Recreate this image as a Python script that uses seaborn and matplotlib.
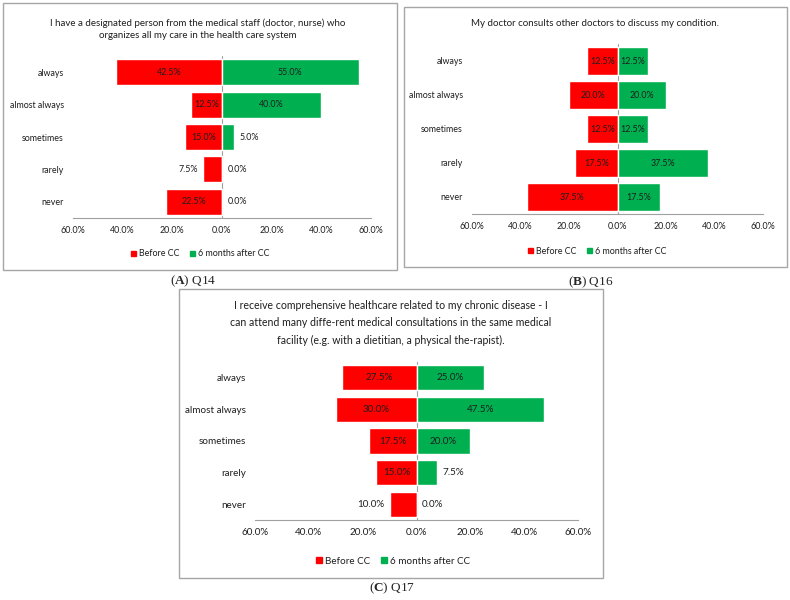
import matplotlib.pyplot as plt
import seaborn as sns
from matplotlib.patches import Patch, Rectangle

# answer categories and percentages
cats = ["always", "almost always", "sometimes", "rarely", "never"]
q14_before = [42.5, 12.5, 15.0, 7.5, 22.5]
q14_after = [55.0, 40.0, 5.0, 0.0, 0.0]
q16_before = [12.5, 20.0, 12.5, 17.5, 37.5]
q16_after = [12.5, 20.0, 12.5, 37.5, 17.5]
q17_before = [27.5, 30.0, 17.5, 15.0, 10.0]
q17_after = [25.0, 47.5, 20.0, 7.5, 0.0]
series_names = ["Before CC", "6 months after CC"]
xticks = [-60, -40, -20, 0, 20, 40, 60]

title_a = ("I have a designated person from the medical staff (doctor, nurse) who\n"
           "organizes all my care in the health care system")
title_b = "My doctor consults other doctors to discuss my condition."
title_c = ("I receive comprehensive healthcare related to my chronic disease - I\n"
           "can attend many diffe-rent medical consultations in the same medical\n"
           "facility (e.g. with a dietitian, a physical the-rapist).")

RED = "#ff0000"
GREEN = "#00b050"
TXT = "#1e1e1e"

sns.set_style("white")
plt.rcParams["font.family"] = ["Lato", "DejaVu Sans"]
plt.rcParams["mathtext.fontset"] = "custom"
plt.rcParams["mathtext.rm"] = "Liberation Serif"
plt.rcParams["mathtext.bf"] = "Liberation Serif:bold"

fig = plt.figure(figsize=(7.9, 6.0), dpi=100)


def draw_panel(rect, before, after, fs):
    ax = fig.add_axes(rect)
    sns.barplot(x=[-v for v in before], y=cats, order=cats, color=RED,
                width=0.8, errorbar=None, saturation=1, ax=ax)
    sns.barplot(x=after, y=cats, order=cats, color=GREEN,
                width=0.8, errorbar=None, saturation=1, ax=ax)
    ax.set_xlim(-60, 60)
    ax.set_ylim(4.5, -0.5)
    ax.set_xlabel("")
    ax.set_ylabel("")
    ax.axvline(0, color="#a0a0a0", lw=0.8, zorder=0)
    ax.set_xticks(xticks)
    ax.set_xticklabels([f"{abs(t):.1f}%" for t in xticks], fontsize=fs, color=TXT)
    ax.tick_params(axis="x", direction="inout", length=4, width=0.6,
                   color="#a0a0a0", pad=4)
    ax.tick_params(axis="y", length=0, pad=6.5, labelsize=fs, labelcolor=TXT)
    for s in ["top", "right", "left"]:
        ax.spines[s].set_visible(False)
    ax.spines["bottom"].set_color("#a0a0a0")
    ax.spines["bottom"].set_linewidth(0.8)

    for cont, vals in zip(ax.containers[:2], [before, after]):
        inside = [f"{v:.1f}%" if v > 10 else "" for v in vals]
        outside = [f"{v:.1f}%" if v <= 10 else "" for v in vals]
        ax.bar_label(cont, labels=inside, label_type="center", fontsize=fs, color=TXT)
        ax.bar_label(cont, labels=outside, label_type="edge", padding=4,
                     fontsize=fs, color=TXT)
    return ax


def frame(x0, y0, x1, y1):
    fig.patches.append(Rectangle((x0 / 790, 1 - y1 / 600), (x1 - x0) / 790,
                                 (y1 - y0) / 600, transform=fig.transFigure,
                                 fill=False, edgecolor="#a6a6a6", lw=1.0))


handles = [Patch(color=RED), Patch(color=GREEN)]


def legend(cx, cy, fs):
    fig.legend(handles, series_names, loc="center", bbox_to_anchor=(cx, cy),
               ncol=2, frameon=False, fontsize=fs, handlelength=0.6,
               handleheight=0.6, handletextpad=0.3, columnspacing=1.2,
               labelcolor=TXT)


# panel A
frame(3, 3, 397, 270)
draw_panel([73 / 790, 1 - 218 / 600, 298 / 790, 162 / 600], q14_before, q14_after, 6.4)
fig.text(198 / 790, 1 - 29 / 600, title_a, ha="center", va="center",
         fontsize=7.0, linespacing=1.44, color=TXT)
legend(200 / 790, 1 - 254 / 600, 6.4)
fig.text(193 / 790, 1 - 281 / 600, r"($\mathbf{A}$) Q14", ha="center", va="center",
         fontsize=9.5, family="Liberation Serif")

# panel B
frame(404, 7, 787, 267)
draw_panel([472 / 790, 1 - 214 / 600, 291 / 790, 170 / 600], q16_before, q16_after, 6.4)
fig.text(595 / 790, 1 - 24 / 600, title_b, ha="center", va="center",
         fontsize=7.0, color=TXT)
legend(597 / 790, 1 - 251 / 600, 6.4)
fig.text(591 / 790, 1 - 282 / 600, r"($\mathbf{B}$) Q16", ha="center", va="center",
         fontsize=9.5, family="Liberation Serif")

# panel C
frame(179, 289, 603, 578)
draw_panel([255 / 790, 1 - 520 / 600, 323 / 790, 158 / 600], q17_before, q17_after, 7.1)
fig.text(391 / 790, 1 - 323 / 600, title_c, ha="center", va="center",
         fontsize=7.6, linespacing=1.7, color=TXT)
legend(393 / 790, 1 - 561 / 600, 7.1)
fig.text(392 / 790, 1 - 588 / 600, r"($\mathbf{C}$) Q17", ha="center", va="center",
         fontsize=9.5, family="Liberation Serif")

fig.savefig("out.png", dpi=100)
